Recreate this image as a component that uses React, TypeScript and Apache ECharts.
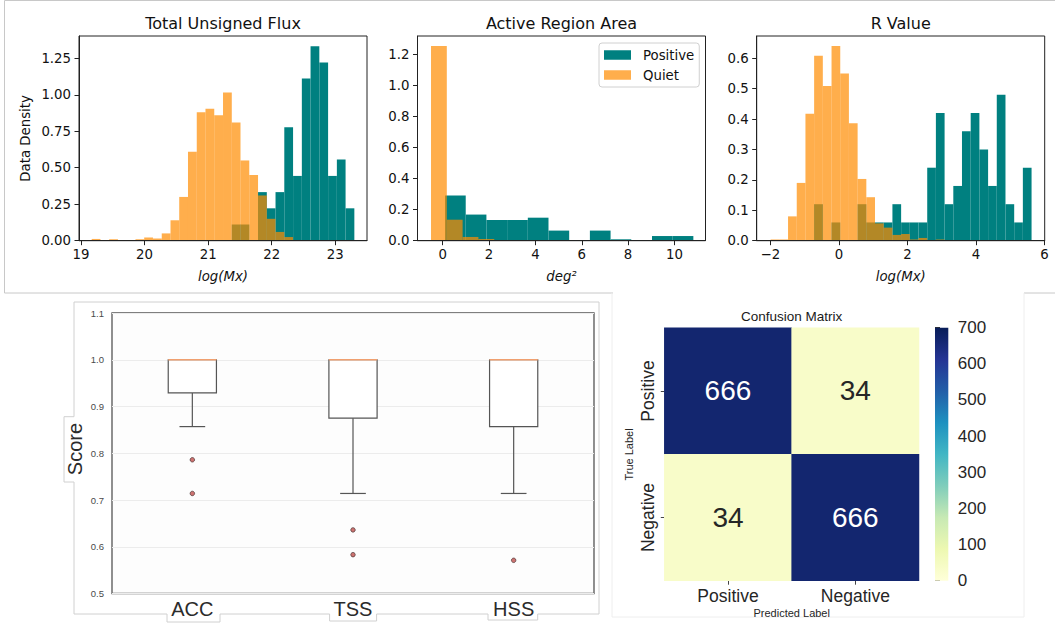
import React, { useEffect, useRef } from 'react';
import * as echarts from 'echarts';

// ---------- Data ----------
// Total Unsigned Flux (log Mx): shared 30-bin edges
const FLUX_EDGES = [19.168, 19.306, 19.443, 19.581, 19.719, 19.857, 19.994, 20.132, 20.270, 20.408, 20.545, 20.683, 20.821, 20.958, 21.096, 21.234, 21.372, 21.509, 21.647, 21.785, 21.923, 22.060, 22.198, 22.336, 22.474, 22.611, 22.749, 22.887, 23.025, 23.162, 23.300];
const FLUX_POSITIVE = [0, 0, 0, 0, 0, 0, 0, 0, 0, 0, 0, 0, 0, 0, 0, 0, 0.111, 0.111, 0, 0.333, 0.222, 0.333, 0.778, 0.444, 1.111, 1.333, 1.222, 0.444, 0.556, 0.222];
const FLUX_QUIET = [0.012, 0, 0.01, 0.004, 0.004, 0.01, 0.022, 0.015, 0.05, 0.14, 0.30, 0.61, 0.88, 0.905, 0.86, 1.015, 0.81, 0.55, 0.45, 0.31, 0.15, 0.06, 0.025, 0.005, 0, 0, 0, 0, 0, 0];

// Active Region Area (deg^2)
const AREA_POS_EDGES = [0.100, 0.993, 1.886, 2.779, 3.672, 4.565, 5.458, 6.351, 7.244, 8.137, 9.030, 9.923, 10.816];
const AREA_POSITIVE = [0.29, 0.168, 0.133, 0.133, 0.148, 0.065, 0, 0.065, 0.009, 0, 0.03, 0.03];
const AREA_QUIET_EDGES = [-0.505, 0.177, 0.859, 1.541, 2.223, 2.905];
const AREA_QUIET = [1.252, 0.135, 0.024, 0.011, 0.004];

// R Value: shared 30-bin edges
const R_EDGES = [-1.990, -1.736, -1.483, -1.229, -0.975, -0.722, -0.468, -0.214, 0.040, 0.293, 0.547, 0.801, 1.054, 1.308, 1.562, 1.816, 2.069, 2.323, 2.577, 2.830, 3.084, 3.338, 3.591, 3.845, 4.099, 4.353, 4.606, 4.860, 5.114, 5.367, 5.621];
const R_POSITIVE = [0, 0, 0, 0, 0, 0.12, 0, 0.06, 0, 0, 0.12, 0.06, 0.06, 0.06, 0.12, 0.06, 0.06, 0.06, 0.24, 0.42, 0.12, 0.18, 0.36, 0.42, 0.30, 0.18, 0.48, 0.12, 0.06, 0.24];
const R_QUIET = [0.004, 0.004, 0.08, 0.19, 0.417, 0.608, 0.509, 0.64, 0.55, 0.386, 0.203, 0.143, 0.057, 0.043, 0.019, 0.022, 0.004, 0.009, 0, 0.004, 0, 0, 0, 0, 0, 0, 0, 0, 0, 0];

// Tick values
const FLUX_X_TICKS = [19, 20, 21, 22, 23];
const FLUX_Y_TICKS = [0, 0.25, 0.5, 0.75, 1.0, 1.25];
const AREA_X_TICKS = [0, 2, 4, 6, 8, 10];
const AREA_Y_TICKS = [0, 0.2, 0.4, 0.6, 0.8, 1.0, 1.2];
const R_X_TICKS = [-2, 0, 2, 4, 6];
const R_Y_TICKS = [0, 0.1, 0.2, 0.3, 0.4, 0.5, 0.6];

// Box plot: [lower whisker, Q1, median, Q3, upper whisker]
const METRICS = ['ACC', 'TSS', 'HSS'];
const BOX_STATS = [
  [0.857, 0.929, 1.0, 1.0, 1.0],
  [0.714, 0.875, 1.0, 1.0, 1.0],
  [0.714, 0.857, 1.0, 1.0, 1.0],
];
const OUTLIERS = [[0, 0.786], [0, 0.714], [1, 0.636], [1, 0.583], [2, 0.571]];

// Confusion matrix
const CM_LABELS = ['Positive', 'Negative'];
const CM_VALUES = [[666, 34], [34, 666]]; // rows: true, cols: predicted
const CBAR_TICKS = [0, 100, 200, 300, 400, 500, 600, 700];
const YLGNBU = ['#ffffd9', '#edf8b1', '#c7e9b4', '#7fcdbb', '#41b6c4', '#1d91c0', '#225ea8', '#253494', '#081d58'];

// ---------- Styles ----------
const TEAL = '#008080';
const ORANGE = 'rgba(255,140,0,0.7)';
const MPL_FONT = 'DejaVu Sans';
const SANS = 'Liberation Sans';

function bins(edges: number[], heights: number[]) {
  const out: number[][] = [];
  heights.forEach((h, i) => {
    if (h > 0) out.push([edges[i], edges[i + 1], h]);
  });
  return out;
}

function histRender(color: string) {
  return (params: any, api: any) => {
    const a = api.coord([api.value(0), api.value(2)]);
    const b = api.coord([api.value(1), 0]);
    return {
      type: 'rect',
      shape: { x: a[0], y: a[1], width: b[0] - a[0], height: b[1] - a[1] },
      style: { fill: color },
    };
  };
}

function histX(gi: number, min: number, max: number, ticks: number[], fmt: (v: number) => string) {
  return {
    type: 'value', gridIndex: gi, min, max, z: 5,
    axisLine: { show: true, onZero: false, lineStyle: { color: '#222', width: 1 } },
    axisTick: { show: true, length: 4.5, lineStyle: { color: '#222' }, customValues: ticks },
    axisLabel: { show: true, customValues: ticks, formatter: fmt, margin: 7, color: '#111', fontSize: 13.3, fontFamily: MPL_FONT },
    splitLine: { show: false },
  };
}
function histY(gi: number, max: number, ticks: number[], fmt: (v: number) => string) {
  return {
    type: 'value', gridIndex: gi, min: 0, max, z: 5,
    axisLine: { show: true, onZero: false, lineStyle: { color: '#222', width: 1 } },
    axisTick: { show: true, length: 4.5, lineStyle: { color: '#222' }, customValues: ticks },
    axisLabel: { show: true, customValues: ticks, formatter: fmt, margin: 8, color: '#111', fontSize: 13.3, fontFamily: MPL_FONT },
    splitLine: { show: false },
  };
}

const txt = (x: number, y: number, text: string, size: number, family: string, extra: any = {}, rot = 0) => ({
  type: 'text', x, y, rotation: rot, z: 10,
  style: {
    text, fontSize: size, fontFamily: family, fill: extra.fill || '#111',
    fontStyle: extra.fontStyle || 'normal',
    textAlign: 'center', textVerticalAlign: 'middle',
  },
});

export default function App() {
  const ref = useRef<HTMLDivElement>(null);
  useEffect(() => {
    if (!ref.current) return;
    const chart = echarts.init(ref.current, undefined, { renderer: 'svg' });
    const fmt2 = (v: number) => v.toFixed(2);
    const fmt1 = (v: number) => v.toFixed(1);
    const fmtInt = (v: number) => (v < 0 ? '\u2212' + Math.abs(Math.round(v)) : String(Math.round(v)));

    const cmData: any[] = [];
    CM_VALUES.forEach((row, r) => row.forEach((v, c) => {
      cmData.push({ value: [c, r, v], label: { color: v > 350 ? '#ffffff' : '#262626' } });
    }));

    const boxData = BOX_STATS.map((s, i) => [i, ...s]);

    const gridBase = { outerBoundsMode: 'none', containLabel: false };

    const option: any = {
      animation: false,
      backgroundColor: '#ffffff',
      grid: [
        { ...gridBase, left: 79, top: 36, width: 288, height: 204.7, show: true, borderColor: '#222', borderWidth: 1, backgroundColor: 'transparent' },
        { ...gridBase, left: 417.5, top: 36, width: 288, height: 204.7, show: true, borderColor: '#222', borderWidth: 1, backgroundColor: 'transparent' },
        { ...gridBase, left: 756.7, top: 36, width: 288, height: 204.7, show: true, borderColor: '#222', borderWidth: 1, backgroundColor: 'transparent' },
        { ...gridBase, left: 112, top: 313, width: 482, height: 280.5, show: true, borderColor: '#555', borderWidth: 1.3, backgroundColor: '#fdfdfd' },
        { ...gridBase, left: 664.3, top: 327.7, width: 254.7, height: 253, show: false },
        { ...gridBase, left: 935, top: 327.7, width: 13.3, height: 253, show: false },
      ],
      xAxis: [
        histX(0, 18.9685, 23.499, FLUX_X_TICKS, fmtInt),
        histX(1, -1.088, 11.34, AREA_X_TICKS, fmtInt),
        histX(2, -2.397, 6.004, R_X_TICKS, fmtInt),
        {
          type: 'category', gridIndex: 3, data: METRICS,
          axisLine: { show: false }, axisTick: { show: false },
          axisLabel: { margin: 5, fontSize: 20, fontFamily: SANS, color: '#2b2b2b', interval: 0 },
          splitLine: { show: false },
        },
        {
          type: 'category', gridIndex: 4, data: CM_LABELS,
          axisLine: { show: false },
          axisTick: { show: true, length: 4, alignWithLabel: true, lineStyle: { color: '#444' } },
          axisLabel: { margin: 6, fontSize: 17.5, fontFamily: SANS, color: '#262626', interval: 0 },
          splitLine: { show: false }, splitArea: { show: false },
        },
        { type: 'value', gridIndex: 5, min: 0, max: 1, show: false },
      ],
      yAxis: [
        histY(0, 1.403, FLUX_Y_TICKS, fmt2),
        histY(1, 1.316, AREA_Y_TICKS, fmt1),
        histY(2, 0.673, R_Y_TICKS, fmt1),
        {
          type: 'value', gridIndex: 3, min: 0.5, max: 1.1, interval: 0.1,
          axisLine: { show: false }, axisTick: { show: false },
          axisLabel: { margin: 8, fontSize: 9.5, fontFamily: SANS, color: '#4a4a4a', formatter: (v: number) => v.toFixed(1) },
          splitLine: { show: true, lineStyle: { color: '#ececec', width: 1 } },
        },
        {
          type: 'category', gridIndex: 4, data: CM_LABELS, inverse: true,
          axisLine: { show: false },
          axisTick: { show: true, length: 3.5, alignWithLabel: true, lineStyle: { color: '#444' } },
          axisLabel: { show: false },
          splitLine: { show: false }, splitArea: { show: false },
        },
        {
          type: 'value', gridIndex: 5, min: 0, max: 700, interval: 100, position: 'right',
          axisLine: { show: false },
          axisTick: { show: true, length: 5, lineStyle: { color: '#333' }, customValues: CBAR_TICKS },
          axisLabel: { margin: 9.5, fontSize: 17, fontFamily: SANS, color: '#262626', customValues: CBAR_TICKS },
          splitLine: { show: false },
        },
      ],
      legend: {
        data: ['Positive', 'Quiet'], left: 599, top: 43, orient: 'vertical', icon: 'rect',
        itemWidth: 27, itemHeight: 9.5, itemGap: 4, padding: [4, 5, 4, 5],
        selectedMode: false,
        textStyle: { fontFamily: MPL_FONT, fontSize: 13.3, color: '#111', lineHeight: 16, padding: [0, 0, 0, 7] },
        backgroundColor: 'rgba(255,255,255,0.8)', borderColor: '#d0d0d0', borderWidth: 1, borderRadius: 3,
      },
      visualMap: [{
        type: 'continuous', show: false, min: 0, max: 700, seriesIndex: 8, dimension: 2,
        inRange: { color: YLGNBU },
      }],
      series: [
        { type: 'custom', name: 'Positive', xAxisIndex: 0, yAxisIndex: 0, data: bins(FLUX_EDGES, FLUX_POSITIVE), encode: { x: [0, 1], y: 2 }, renderItem: histRender(TEAL), itemStyle: { color: TEAL } },
        { type: 'custom', name: 'Quiet', xAxisIndex: 0, yAxisIndex: 0, data: bins(FLUX_EDGES, FLUX_QUIET), encode: { x: [0, 1], y: 2 }, renderItem: histRender(ORANGE), itemStyle: { color: ORANGE } },
        { type: 'custom', name: 'Positive', xAxisIndex: 1, yAxisIndex: 1, data: bins(AREA_POS_EDGES, AREA_POSITIVE), encode: { x: [0, 1], y: 2 }, renderItem: histRender(TEAL), itemStyle: { color: TEAL } },
        { type: 'custom', name: 'Quiet', xAxisIndex: 1, yAxisIndex: 1, data: bins(AREA_QUIET_EDGES, AREA_QUIET), encode: { x: [0, 1], y: 2 }, renderItem: histRender(ORANGE), itemStyle: { color: ORANGE } },
        { type: 'custom', name: 'Positive', xAxisIndex: 2, yAxisIndex: 2, data: bins(R_EDGES, R_POSITIVE), encode: { x: [0, 1], y: 2 }, renderItem: histRender(TEAL), itemStyle: { color: TEAL } },
        { type: 'custom', name: 'Quiet', xAxisIndex: 2, yAxisIndex: 2, data: bins(R_EDGES, R_QUIET), encode: { x: [0, 1], y: 2 }, renderItem: histRender(ORANGE), itemStyle: { color: ORANGE } },
        {
          type: 'custom', name: 'box', xAxisIndex: 3, yAxisIndex: 3, data: boxData,
          encode: { x: 0, y: [1, 2, 3, 4, 5] },
          renderItem: (params: any, api: any) => {
            const i = api.value(0);
            const lo = api.coord([i, api.value(1)]);
            const q1 = api.coord([i, api.value(2)]);
            const med = api.coord([i, api.value(3)]);
            const q3 = api.coord([i, api.value(4)]);
            const hi = api.coord([i, api.value(5)]);
            const band = api.size([1, 0])[0];
            const bw = band * 0.3;
            const cw = band * 0.16;
            const cx = q1[0];
            const stroke = { stroke: '#555', lineWidth: 1.2, fill: 'none' };
            const children: any[] = [
              { type: 'rect', shape: { x: cx - bw / 2, y: q3[1], width: bw, height: q1[1] - q3[1] }, style: { fill: '#ffffff', stroke: '#555', lineWidth: 1.2 } },
              { type: 'line', shape: { x1: cx, y1: q1[1], x2: cx, y2: lo[1] }, style: stroke },
              { type: 'line', shape: { x1: cx - cw / 2, y1: lo[1], x2: cx + cw / 2, y2: lo[1] }, style: stroke },
            ];
            if (hi[1] < q3[1] - 0.5) {
              children.push({ type: 'line', shape: { x1: cx, y1: q3[1], x2: cx, y2: hi[1] }, style: stroke });
              children.push({ type: 'line', shape: { x1: cx - cw / 2, y1: hi[1], x2: cx + cw / 2, y2: hi[1] }, style: stroke });
            }
            children.push({ type: 'line', shape: { x1: cx - bw / 2, y1: med[1], x2: cx + bw / 2, y2: med[1] }, style: { stroke: '#f0a070', lineWidth: 1.3 } });
            return { type: 'group', children };
          },
        },
        {
          type: 'scatter', name: 'outliers', xAxisIndex: 3, yAxisIndex: 3, data: OUTLIERS,
          symbol: 'circle', symbolSize: 4.5,
          itemStyle: { color: '#c0504d', borderColor: '#3a2a2a', borderWidth: 0.8 },
        },
        {
          type: 'heatmap', name: 'cm', xAxisIndex: 4, yAxisIndex: 4, data: cmData,
          label: { show: true, fontSize: 28, fontFamily: SANS, formatter: (p: any) => String(p.value[2]) },
          itemStyle: { borderWidth: 0 },
          emphasis: { disabled: true },
        },
        {
          type: 'custom', name: 'cbar', xAxisIndex: 5, yAxisIndex: 5, data: [[0, 1, 0, 700]],
          encode: { x: [0, 1], y: [2, 3] },
          renderItem: (params: any, api: any) => {
            const a = api.coord([api.value(0), api.value(3)]);
            const b = api.coord([api.value(1), api.value(2)]);
            const stops = YLGNBU.map((c, k) => ({ offset: k / (YLGNBU.length - 1), color: c }));
            return {
              type: 'rect',
              shape: { x: a[0], y: a[1], width: b[0] - a[0], height: b[1] - a[1] },
              style: { fill: new echarts.graphic.LinearGradient(0, 1, 0, 0, stops) },
            };
          },
        },
      ],
      graphic: [
        // top figure frame
        { type: 'polyline', z: 1, shape: { points: [[613, 293], [4.5, 293], [4.5, 0.5], [1060, 0.5]] }, style: { stroke: '#c8c8c8', lineWidth: 1, fill: 'none' } },
        { type: 'line', z: 1, shape: { x1: 1024, y1: 293, x2: 1060, y2: 293 }, style: { stroke: '#c8c8c8', lineWidth: 1 } },
        // box plot image outline with label notches
        {
          type: 'polyline', z: 1,
          shape: {
            points: [[74, 302], [74, 416.7], [64, 416.7], [64, 482], [74, 482], [74, 614], [167, 614], [167, 622], [220, 622], [220, 614],
              [329.6, 614], [329.6, 621], [376.6, 621], [376.6, 614], [488, 614], [488, 620], [537.7, 620], [537.7, 614], [599, 614], [599, 302], [74, 302]],
          },
          style: { stroke: '#d0d0d0', lineWidth: 1, fill: 'none' },
        },
        // confusion matrix image edges
        { type: 'polyline', z: 1, shape: { points: [[612, 293], [612, 617], [1024, 617], [1024, 293]] }, style: { stroke: '#eeeeee', lineWidth: 1, fill: 'none' } },
        // titles
        txt(223, 23, 'Total Unsigned Flux', 16, MPL_FONT),
        txt(561.5, 23, 'Active Region Area', 16, MPL_FONT),
        txt(900.7, 23, 'R Value', 16, MPL_FONT),
        txt(25, 138.4, 'Data Density', 13.3, MPL_FONT, {}, Math.PI / 2),
        txt(223, 276, 'log(Mx)', 13.3, MPL_FONT, { fontStyle: 'italic' }),
        txt(561.5, 276, 'deg\u00B2', 13.3, MPL_FONT, { fontStyle: 'italic' }),
        txt(900.7, 276, 'log(Mx)', 13.3, MPL_FONT, { fontStyle: 'italic' }),
        // box plot
        txt(75, 449, 'Score', 20, SANS, { fill: '#2b2b2b' }, Math.PI / 2),
        // confusion matrix
        txt(791.7, 316, 'Confusion Matrix', 13.5, SANS, { fill: '#1a1a1a' }),
        txt(629, 454.5, 'True Label', 11, SANS, { fill: '#262626' }, Math.PI / 2),
        txt(791.7, 612.5, 'Predicted Label', 11, SANS, { fill: '#262626' }),
        txt(648.3, 391, CM_LABELS[0], 17.5, SANS, { fill: '#262626' }, Math.PI / 2),
        txt(648.3, 517.5, CM_LABELS[1], 17.5, SANS, { fill: '#262626' }, Math.PI / 2),
      ],
    };
    chart.setOption(option);
    return () => chart.dispose();
  }, []);
  return <div ref={ref} style={{ position: 'absolute', left: 0, top: 0, width: 1055, height: 623 }} />;
}
